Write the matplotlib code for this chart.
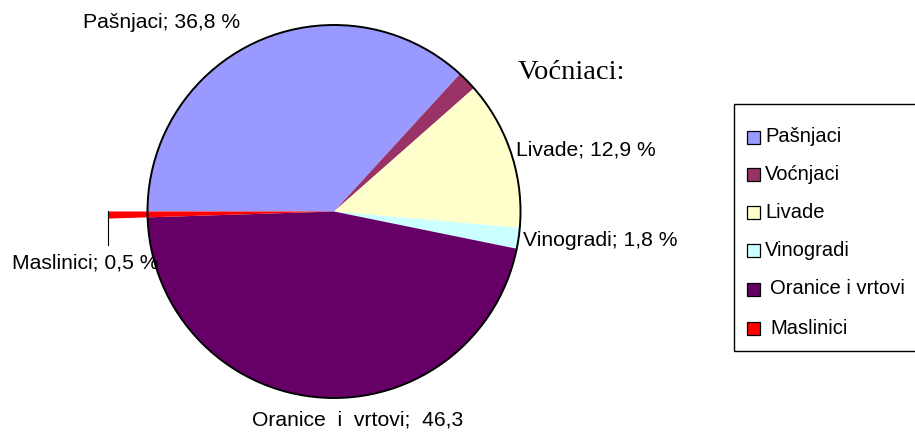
import matplotlib
matplotlib.use('Agg')
import matplotlib.pyplot as plt
from matplotlib.patches import Circle, Rectangle

categories = ['Pašnjaci', 'Voćnjaci', 'Livade', 'Vinogradi', 'Oranice i vrtovi', 'Maslinici']
shares = [36.8, 1.7, 12.9, 1.8, 46.3, 0.5]
colors = ['#9999FF', '#993366', '#FFFFCC', '#CCFFFF', '#660066', '#FF0000']
data_labels = ['Pašnjaci; 36,8 %', None, 'Livade; 12,9 %', 'Vinogradi; 1,8 %',
               'Oranice  i  vrtovi;  46,3', 'Maslinici; 0,5 %']
stray_title = 'Voćniaci:'

W, H = 915, 433
fig = plt.figure(figsize=(W / 100, H / 100), dpi=100)
ax = fig.add_axes([0, 0, 1, 1])

def py(y):
    return H - y

cx, cy, r = 334, py(211.5), 186.5
wedges, _ = ax.pie(shares, colors=colors, startangle=180.0, counterclock=False,
                   center=(cx, cy), radius=r, wedgeprops=dict(linewidth=0, antialiased=True))
# exploded thin Maslinici slice
wedges[5].set_radius(226)
ax.add_patch(Circle((cx, cy), r, fill=False, ec='black', lw=1.4, zorder=3))

ax.set_xlim(0, W)
ax.set_ylim(0, H)
ax.set_aspect('equal')
ax.axis('off')

font = 'Liberation Sans'
fs = 15.2
label_pos = [(83, 22), None, (516, 150), (523, 241), (252, 420), (12, 263)]
for lab, pos in zip(data_labels, label_pos):
    if lab is None:
        continue
    ax.text(pos[0], py(pos[1]), lab, family=font, fontsize=fs, ha='left', va='center')

# leader line for Maslinici
ax.plot([108, 108], [py(211), py(245)], color='black', lw=0.8)

ax.text(518, py(79), stray_title, family='Liberation Serif', fontsize=20.5,
        ha='left', va='baseline')

# legend box
ax.add_patch(Rectangle((734, py(351)), 200, 247, fill=False, ec='black', lw=1.0, clip_on=True))
leg_y = [137, 174, 212, 250, 289, 328]
for cat, col, yy in zip(categories, colors, leg_y):
    ax.add_patch(Rectangle((746.5, py(yy) - 6.5), 13, 13, fc=col, ec='black', lw=0.9))
    tx = 765 if yy < 260 else 770
    ax.text(tx, py(yy), cat, family=font, fontsize=14.5, ha='left', va='center')

fig.savefig('out.png', dpi=100)
